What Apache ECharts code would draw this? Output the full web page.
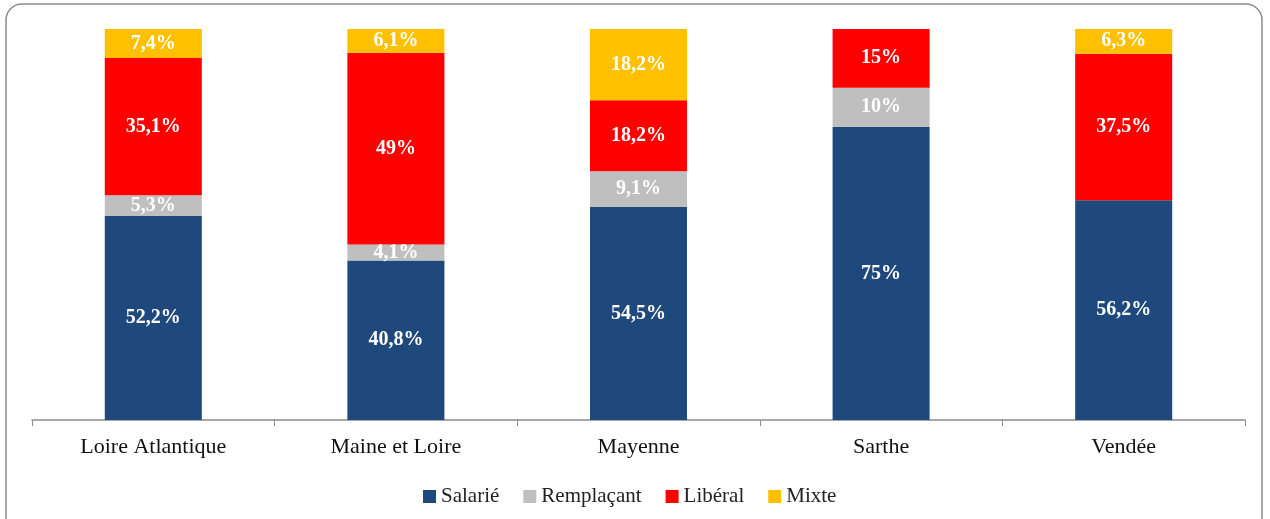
<!DOCTYPE html>
<html>
<head>
<meta charset="utf-8">
<script src="https://cdn.jsdelivr.net/npm/echarts@6/dist/echarts.min.js"></script>
<style>
  html, body { margin: 0; padding: 0; background: #fff; }
  #chart { width: 1270px; height: 519px; }
</style>
</head>
<body>
<div id="chart"></div>
<script>
var departements = ['Loire Atlantique', 'Maine et Loire', 'Mayenne', 'Sarthe', 'Vendée'];
var salarie = [52.2, 40.8, 54.5, 75, 56.2];
var remplacant = [5.3, 4.1, 9.1, 10, 0];
var liberal = [35.1, 49, 18.2, 15, 37.5];
var mixte = [7.4, 6.1, 18.2, 0, 6.3];

var serif = 'Liberation Serif';

function pct(p) {
    if (!p.value) return '';
    return String(p.value).replace('.', ',') + '%';
}

function makeSerie(name, data, color) {
    return {
        name: name,
        type: 'bar',
        stack: 'total',
        barWidth: '40%',
        data: data,
        itemStyle: { color: color },
        label: {
            show: true,
            position: 'inside',
            formatter: pct,
            color: '#fff',
            fontFamily: serif,
            fontWeight: 'bold',
            fontSize: 20
        }
    };
}

var myChart = echarts.init(document.getElementById('chart'));
myChart.setOption({
    animation: false,
    graphic: [{
        type: 'rect',
        shape: { x: 6, y: 4, width: 1256, height: 540, r: 16 },
        style: { fill: 'none', stroke: '#8c8c8c', lineWidth: 1.5 },
        z: -1
    }],
    grid: { left: 32, right: 25, top: 29, bottom: 99 },
    legend: {
        bottom: 7,
        left: 418,
        itemWidth: 13,
        itemHeight: 13,
        itemGap: 24,
        icon: 'rect',
        textStyle: { fontFamily: serif, fontSize: 21, color: '#222' },
        data: ['Salarié', 'Remplaçant', 'Libéral', 'Mixte']
    },
    xAxis: {
        type: 'category',
        data: departements,
        axisLine: { lineStyle: { color: '#8c8c8c', width: 1.5 } },
        axisTick: { show: true, length: 6, lineStyle: { color: '#8c8c8c' } },
        axisLabel: { fontFamily: serif, fontSize: 22, color: '#111', margin: 16 }
    },
    yAxis: {
        type: 'value',
        min: 0,
        max: 100,
        show: false,
        splitLine: { show: false }
    },
    series: [
        makeSerie('Salarié', salarie, '#1f497d'),
        makeSerie('Remplaçant', remplacant, '#bfbfbf'),
        makeSerie('Libéral', liberal, '#ff0000'),
        makeSerie('Mixte', mixte, '#ffc000')
    ]
});
</script>
</body>
</html>
